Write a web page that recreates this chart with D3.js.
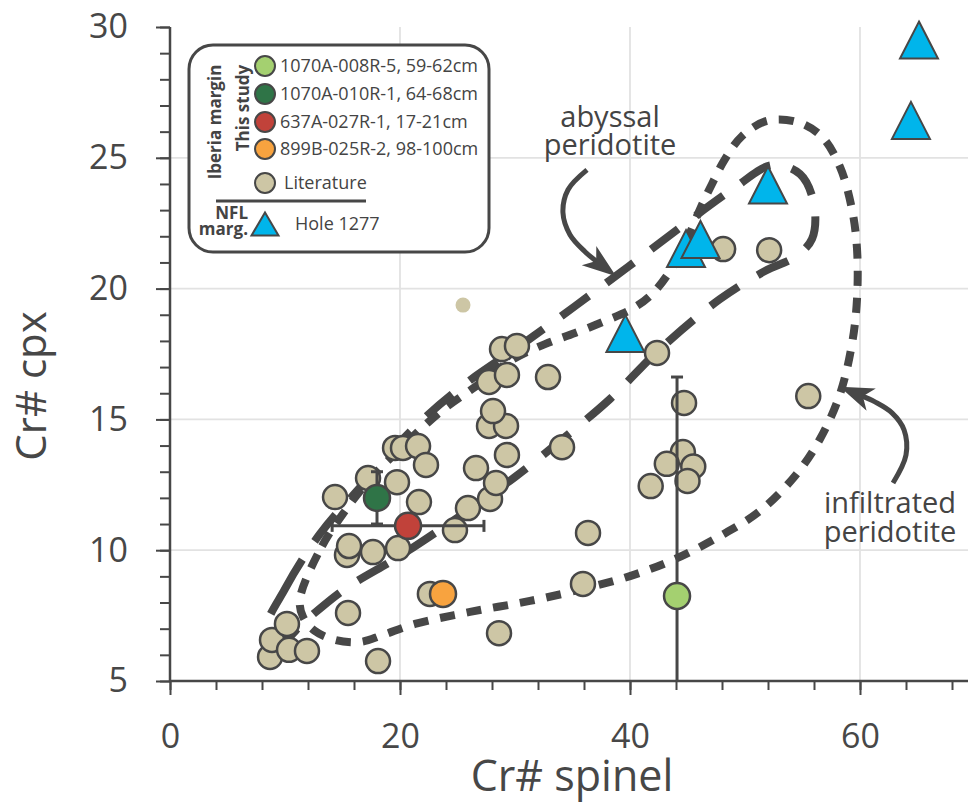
<!DOCTYPE html>
<html><head><meta charset="utf-8">
<script src="https://cdn.jsdelivr.net/npm/d3@7"></script>
<style>body{margin:0;background:#fff}svg{display:block}text{font-family:"Open Sans",sans-serif}</style>
</head><body><svg id="c" width="968" height="805"></svg>
<script>
// ---------------- data ----------------
const xMajorTicks = [0, 20, 40, 60];
const xMinorTicks = [0,4,8,12,16,20,24,28,32,36,40,44,48,52,56,60,64,68];
const yMajorTicks = [5, 10, 15, 20, 25, 30];
const yMinorTicks = [5,6,7,8,9,10,11,12,13,14,15,16,17,18,19,20,21,22,23,24,25,26,27,28,29,30];
const gridX = [20, 40, 60];
const gridY = [10, 15, 20, 25];

// Literature (Iberia margin) [Cr# spinel, Cr# cpx]
const literature = [
  [8.7,5.92],[8.87,6.57],[10.17,7.18],[10.35,6.19],[11.91,6.15],[15.48,7.6],[18.09,5.76],
  [14.35,12.03],[15.39,9.82],[15.57,10.16],[17.65,9.93],[19.83,10.08],[17.22,12.76],[19.74,12.6],
  [19.57,13.91],[20.26,13.91],[21.57,13.98],[22.26,13.26],[21.65,11.84],[22.6,8.33],[24.78,10.77],
  [25.91,11.61],[27.83,11.96],[28.35,12.57],[26.61,13.14],[29.3,13.64],[27.74,14.75],[29.22,14.75],
  [28.09,15.32],[27.74,16.43],[29.3,16.7],[28.87,17.69],[30.17,17.81],[32.87,16.62],[34.09,13.94],
  [36.35,10.66],[35.91,8.71],[28.61,6.83],[42.35,17.54],[44.7,15.63],[44.6,13.75],[43.2,13.3],
  [45.5,13.2],[45.0,12.65],[41.8,12.45],[48.1,21.51],[52.1,21.47],[55.5,15.89]
];
const literatureSmall = [[25.48, 19.37]];

// Hole 1277 (NFL margin)
const hole1277 = [[39.6,18.28],[44.87,21.53],[46.13,21.88],[52.0,23.96],[64.43,26.43],[65.13,29.5]];

// This study
const studyLabels = ["1070A-008R-5, 59-62cm","1070A-010R-1, 64-68cm","637A-027R-1, 17-21cm","899B-025R-2, 98-100cm"];
const studyColors = ["#a4d070","#2f7447","#c1423a","#f8a33f"];
const studyX = [44.09, 18.0, 20.7, 23.74];
const studyY = [8.25, 12.0, 10.93, 8.33];
const studyXErr = [0, 0, 6.6, 0];
const studyYErr = [8.37, 1.0, 0, 0];

// Field outlines (hand-drawn annotation shapes)
const abyssalField = [
  [8.43,6.99],[10.0,8.52],[13.04,10.62],[16.96,12.61],[21.3,14.71],[25.65,16.35],[30.43,17.81],
  [35.22,19.33],[39.83,20.83],[44.52,22.39],[48.96,23.81],[52.35,24.72],[54.78,24.38],[56.0,23.23],
  [55.83,21.9],[54.35,21.21],[51.74,20.67],[47.83,19.6],[42.61,17.69],[38.26,15.78],[33.91,14.17],
  [30.0,12.8],[25.22,11.31],[20.0,9.78],[15.22,8.52],[11.74,7.29],[9.74,6.53]
];
const infiltratedField = [
  [11.3,8.13],[13.22,10.16],[15.22,11.5],[17.39,12.72],[20.0,13.87],[23.48,15.28],[26.52,16.24],
  [29.57,17.23],[32.61,17.88],[35.22,18.3],[37.83,18.76],[40.17,19.22],[41.91,19.79],[43.48,20.67],
  [44.78,21.7],[46.09,23.04],[47.13,24.0],[48.26,24.95],[49.74,25.83],[51.91,26.41],[54.52,26.37],
  [56.7,25.8],[58.26,24.65],[59.3,23.04],[59.74,21.51],[59.74,19.6],[59.3,17.88],[58.26,15.97],
  [56.52,14.25],[54.35,12.84],[51.3,11.5],[47.83,10.54],[43.91,9.66],[40.0,9.01],[35.91,8.52],
  [31.3,8.06],[26.09,7.64],[21.3,7.18],[18.52,6.76],[16.52,6.49],[14.35,6.57],[12.61,6.91],[11.57,7.45]
];
const abyssalArrow = [[36.26,24.54],[34.61,23.78],[34.17,22.9],[34.78,22.06],[36.09,21.41],[37.13,21.03]];
const infiltratedArrow = [[62.87,12.57],[64.0,13.64],[63.83,14.6],[62.78,15.25],[61.3,15.67],[60.17,15.9]];
const abyssalLabel = ["abyssal", "peridotite"];
const infiltratedLabel = ["infiltrated", "peridotite"];

// ---------------- drawing ----------------
const ink = "#474747", txt = "#444444";
const beige = "#cdc6a5", blue = "#00b5eb", grid = "#e2e2e2";
const svg = d3.select("#c");
const x = d3.scaleLinear().domain([0, 70]).range([170, 975]);
const y = d3.scaleLinear().domain([5, 30]).range([681, 27]);

const defs = svg.append("defs");
defs.append("marker").attr("id","ah").attr("markerUnits","userSpaceOnUse")
  .attr("viewBox","0 -14 34 28").attr("markerWidth",34).attr("markerHeight",28)
  .attr("refX",10).attr("refY",0).attr("orient","auto")
  .append("path").attr("d","M34,0 L0,-12 L9,0 L0,12 Z").attr("fill",ink);

// grid
svg.append("g").selectAll("line").data(gridX).join("line")
  .attr("x1",d=>x(d)).attr("x2",d=>x(d)).attr("y1",y(5)).attr("y2",y(30))
  .attr("stroke",grid).attr("stroke-width",1.8);
svg.append("g").selectAll("line").data(gridY).join("line")
  .attr("y1",d=>y(d)).attr("y2",d=>y(d)).attr("x1",x(0)).attr("x2",x(70))
  .attr("stroke",grid).attr("stroke-width",1.8);

// fields
const closed = d3.line().x(d=>x(d[0])).y(d=>y(d[1])).curve(d3.curveCatmullRomClosed.alpha(0.5));
svg.append("path").attr("d",closed(abyssalField)).attr("fill","none").attr("stroke",ink)
  .attr("stroke-width",8).attr("stroke-dasharray","34 22");
svg.append("path").attr("d",closed(infiltratedField)).attr("fill","none").attr("stroke",ink)
  .attr("stroke-width",8).attr("stroke-dasharray","15 12");

// axes
function styleAxis(g){ g.select(".domain").remove(); g.selectAll("line").attr("stroke",ink).attr("stroke-width",2); g.selectAll("text").attr("fill",ink).style("font-family","'Open Sans',sans-serif"); }
svg.append("g").attr("transform",`translate(0,${y(5)})`)
  .call(d3.axisBottom(x).tickValues(xMinorTicks).tickSize(9).tickFormat("")).call(styleAxis);
svg.append("g").attr("transform",`translate(0,${y(5)})`)
  .call(d3.axisBottom(x).tickValues(xMajorTicks).tickSize(14).tickPadding(29).tickFormat(d3.format("d")))
  .call(styleAxis).selectAll("text").attr("font-size",34);
svg.append("g").attr("transform",`translate(${x(0)},0)`)
  .call(d3.axisLeft(y).tickValues(yMinorTicks).tickSize(10).tickFormat("")).call(styleAxis);
svg.append("g").attr("transform",`translate(${x(0)},0)`)
  .call(d3.axisLeft(y).tickValues(yMajorTicks).tickSize(14).tickPadding(28).tickFormat(d3.format("d")))
  .call(styleAxis).selectAll("text").attr("font-size",34);
svg.append("line").attr("x1",x(0)).attr("x2",x(70)).attr("y1",y(5)).attr("y2",y(5)).attr("stroke",ink).attr("stroke-width",2.5);
svg.append("line").attr("x1",x(0)).attr("x2",x(0)).attr("y1",y(5)).attr("y2",y(30)).attr("stroke",ink).attr("stroke-width",2.5);

svg.append("text").attr("x",572).attr("y",791).attr("text-anchor","middle").attr("font-size",43).attr("fill",ink).text("Cr# spinel");
svg.append("text").attr("transform","translate(46,386) rotate(-90)").attr("text-anchor","middle").attr("font-size",42).attr("fill",ink).text("Cr# cpx");

// literature
svg.append("g").selectAll("circle").data(literatureSmall).join("circle")
  .attr("cx",d=>x(d[0])).attr("cy",d=>y(d[1])).attr("r",7.5).attr("fill",beige);
svg.append("g").selectAll("circle").data(literature).join("circle")
  .attr("cx",d=>x(d[0])).attr("cy",d=>y(d[1])).attr("r",12).attr("fill",beige)
  .attr("stroke",ink).attr("stroke-width",2.5);

// this study error bars + points
const study = studyX.map((v,i)=>({x:v,y:studyY[i],ex:studyXErr[i],ey:studyYErr[i],c:studyColors[i]}));
const eb = svg.append("g").attr("stroke",ink).attr("stroke-width",3);
study.forEach(d=>{
  if(d.ey>0){
    const lo=Math.max(5,d.y-d.ey), hi=Math.min(30,d.y+d.ey);
    eb.append("line").attr("x1",x(d.x)).attr("x2",x(d.x)).attr("y1",y(lo)).attr("y2",y(hi));
    eb.append("line").attr("x1",x(d.x)-6).attr("x2",x(d.x)+6).attr("y1",y(hi)).attr("y2",y(hi));
    if(d.y-d.ey>5) eb.append("line").attr("x1",x(d.x)-6).attr("x2",x(d.x)+6).attr("y1",y(lo)).attr("y2",y(lo));
  }
  if(d.ex>0){
    eb.append("line").attr("x1",x(d.x-d.ex)).attr("x2",x(d.x+d.ex)).attr("y1",y(d.y)).attr("y2",y(d.y));
    [d.x-d.ex,d.x+d.ex].forEach(v=>eb.append("line").attr("x1",x(v)).attr("x2",x(v)).attr("y1",y(d.y)-6).attr("y2",y(d.y)+6));
  }
});
svg.append("g").selectAll("circle").data(study).join("circle")
  .attr("cx",d=>x(d.x)).attr("cy",d=>y(d.y)).attr("r",13).attr("fill",d=>d.c)
  .attr("stroke",ink).attr("stroke-width",2.5);

// triangles
const tri=(cx,cy,w,h)=>`M${cx},${cy-h/2}L${cx+w/2},${cy+h/2}L${cx-w/2},${cy+h/2}Z`;
svg.append("g").selectAll("path").data(hole1277).join("path")
  .attr("d",d=>tri(x(d[0]),y(d[1]),38,37)).attr("fill",blue).attr("stroke",ink).attr("stroke-width",2);

// arrows
const open = d3.line().x(d=>x(d[0])).y(d=>y(d[1])).curve(d3.curveCatmullRom.alpha(0.5));
[abyssalArrow, infiltratedArrow].forEach(a=>svg.append("path").attr("d",open(a)).attr("fill","none")
  .attr("stroke",ink).attr("stroke-width",5).attr("marker-end","url(#ah)"));

// annotation labels (two-line, one text element each)
function twoLine(lines, cx, y0, dy){
  const t = svg.append("text").attr("fill",txt).attr("font-size",29).attr("text-anchor","middle");
  lines.forEach((s,i)=>t.append("tspan").attr("x",cx).attr("y",y0+i*dy).text(s));
}
twoLine(abyssalLabel, 610, 127, 28);
twoLine(infiltratedLabel, 890, 513, 29);

// legend
const lg = svg.append("g");
lg.append("rect").attr("x",189).attr("y",45).attr("width",300).attr("height",207).attr("rx",24)
  .attr("fill","#fff").attr("stroke",ink).attr("stroke-width",3);
const rowsY=[66,94,122,149];
studyLabels.forEach((t,i)=>{
  lg.append("circle").attr("cx",265).attr("cy",rowsY[i]).attr("r",10).attr("fill",studyColors[i]).attr("stroke",ink).attr("stroke-width",2);
  lg.append("text").attr("x",280).attr("y",rowsY[i]).attr("dy","0.35em").attr("font-size",18).attr("fill",txt).text(t);
});
lg.append("circle").attr("cx",265).attr("cy",183).attr("r",10).attr("fill",beige).attr("stroke",ink).attr("stroke-width",2);
lg.append("text").attr("x",284).attr("y",183).attr("dy","0.35em").attr("font-size",18).attr("fill",txt).text("Literature");
lg.append("line").attr("x1",216).attr("x2",366).attr("y1",201).attr("y2",201).attr("stroke",ink).attr("stroke-width",3);
lg.append("path").attr("d",tri(265,224,27,23)).attr("fill",blue).attr("stroke",ink).attr("stroke-width",2);
lg.append("text").attr("x",295).attr("y",224).attr("dy","0.35em").attr("font-size",18).attr("fill",txt).text("Hole 1277");
const nfl = lg.append("text").attr("text-anchor","end").attr("font-size",17).attr("font-weight","bold").attr("fill",txt);
nfl.append("tspan").attr("x",248).attr("y",219).text("NFL");
nfl.append("tspan").attr("x",248).attr("y",235).text("marg.");
lg.append("text").attr("transform","translate(215,122) rotate(-90)").attr("dy","0.35em").attr("text-anchor","middle").attr("font-size",17).attr("font-weight","bold").attr("fill",txt).text("Iberia margin");
lg.append("text").attr("transform","translate(243,108) rotate(-90)").attr("dy","0.35em").attr("text-anchor","middle").attr("font-size",17).attr("font-weight","bold").attr("fill",txt).text("This study");
</script></body></html>
